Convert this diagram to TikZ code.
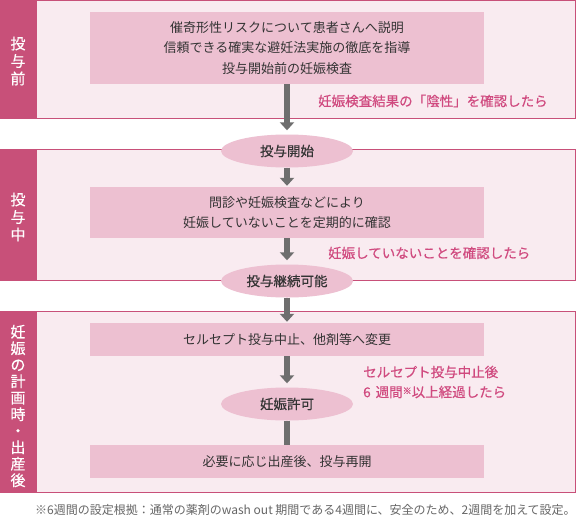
\documentclass[tikz,border=0pt]{standalone}
\usepackage{fontspec}
\setmainfont{Noto Sans CJK JP}
\newfontfamily\medfont[FakeBold=0.5]{Noto Sans CJK JP}
\usetikzlibrary{shapes.geometric,arrows.meta}
\definecolor{tabcol}{HTML}{C85079}
\definecolor{framefill}{HTML}{F9EBF0}
\definecolor{boxfill}{HTML}{EDC0D1}
\definecolor{arrowgray}{HTML}{6E6E6E}
\definecolor{redtext}{HTML}{D04A7F}
\definecolor{darktext}{HTML}{333333}
\definecolor{notegray}{HTML}{666666}
\begin{document}
\begin{tikzpicture}[x=1pt,y=-1pt,
  frame/.style={draw=tabcol, line width=1pt, fill=framefill},
  tabfill/.style={fill=tabcol},
  stepbox/.style={fill=boxfill, inner sep=0pt, minimum width=394pt, align=center, text=darktext, font=\fontsize{13}{20.5}\selectfont},
  oval/.style={ellipse, fill=boxfill, minimum width=132pt, minimum height=33pt, inner sep=0pt, text=darktext, font=\medfont\fontsize{13.5}{16}\selectfont},
  cond/.style={text=redtext, font=\medfont\fontsize{13.5}{20}\selectfont, inner sep=0pt, anchor=west, align=left},
  tablabel/.style={text=white, font=\medfont\fontsize{15}{17.5}\selectfont, align=center, inner sep=0pt},
  flow/.style={draw=arrowgray, line width=6pt, -{Triangle[width=14pt,length=8pt]}},
  link/.style={draw=arrowgray, line width=6pt},
  note/.style={text=notegray, font=\fontsize{12}{14}\selectfont, inner sep=0pt, anchor=west}
]
\useasboundingbox (0,0) rectangle (576,517);
\fill[white] (0,0) rectangle (576,517);

% section frames
\draw[frame] (36,0.5) rectangle (575.5,118);
\fill[tabfill] (0,0) rectangle (36,118.5);
\draw[frame] (36,149.5) rectangle (575.5,280);
\fill[tabfill] (0,149) rectangle (36,280.5);
\draw[frame] (36,311.5) rectangle (575.5,492);
\fill[tabfill] (0,311) rectangle (36,492.5);

\node[tablabel] (t1) at (18,61) {投\\与\\前};
\node[tablabel] (t2) at (18,217) {投\\与\\中};
\node[tablabel, font=\medfont\fontsize{15}{16.5}\selectfont] (t3) at (18,406) {妊\\娠\\の\\計\\画\\時\\・\\出\\産\\後};

% steps
\node[stepbox, minimum height=72pt] (b1) at (287,48) {催奇形性リスクについて患者さんへ説明\\信頼できる確実な避妊法実施の徹底を指導\\投与開始前の妊娠検査};
\node[stepbox, minimum height=51pt] (b2) at (287,212.5) {問診や妊娠検査などにより\\妊娠していないことを定期的に確認};
\node[stepbox, minimum height=33pt] (b3) at (287,339.5) {セルセプト投与中止、他剤等へ変更};
\node[stepbox, minimum height=33pt] (b4) at (287,461.5) {必要に応じ出産後、投与再開};

\node[oval] (e1) at (287,151) {投与開始};
\node[oval] (e2) at (287,281) {投与継続可能};
\node[oval] (e3) at (287,404) {妊娠許可};

% connectors
\draw[flow, shorten >=4pt] (b1.south) -- (e1.north);
\draw[flow, shorten >=1pt] (e1.south) -- (b2.north);
\draw[flow, shorten >=4pt] (b2.south) -- (e2.north);
\draw[flow, shorten >=1pt] (e2.south) -- (b3.north);
\draw[flow, shorten >=4pt] (b3.south) -- (e3.north);
\draw[link] (e3.south) -- (b4.north);

% conditions
\node[cond] (c1) at (318,101) {妊娠検査結果の「陰性」を確認したら};
\node[cond] (c2) at (328,253) {妊娠していないことを確認したら};
\node[cond] (c3) at (363,382) {セルセプト投与中止後\\6\hspace{5pt}週間{\fontsize{9}{9}\selectfont\raisebox{3pt}{※}}以上経過したら};

\node[note] (fn) at (35,510) {※6週間の設定根拠：通常の薬剤のwash out 期間である4週間に、安全のため、2週間を加えて設定。};
\end{tikzpicture}
\end{document}
